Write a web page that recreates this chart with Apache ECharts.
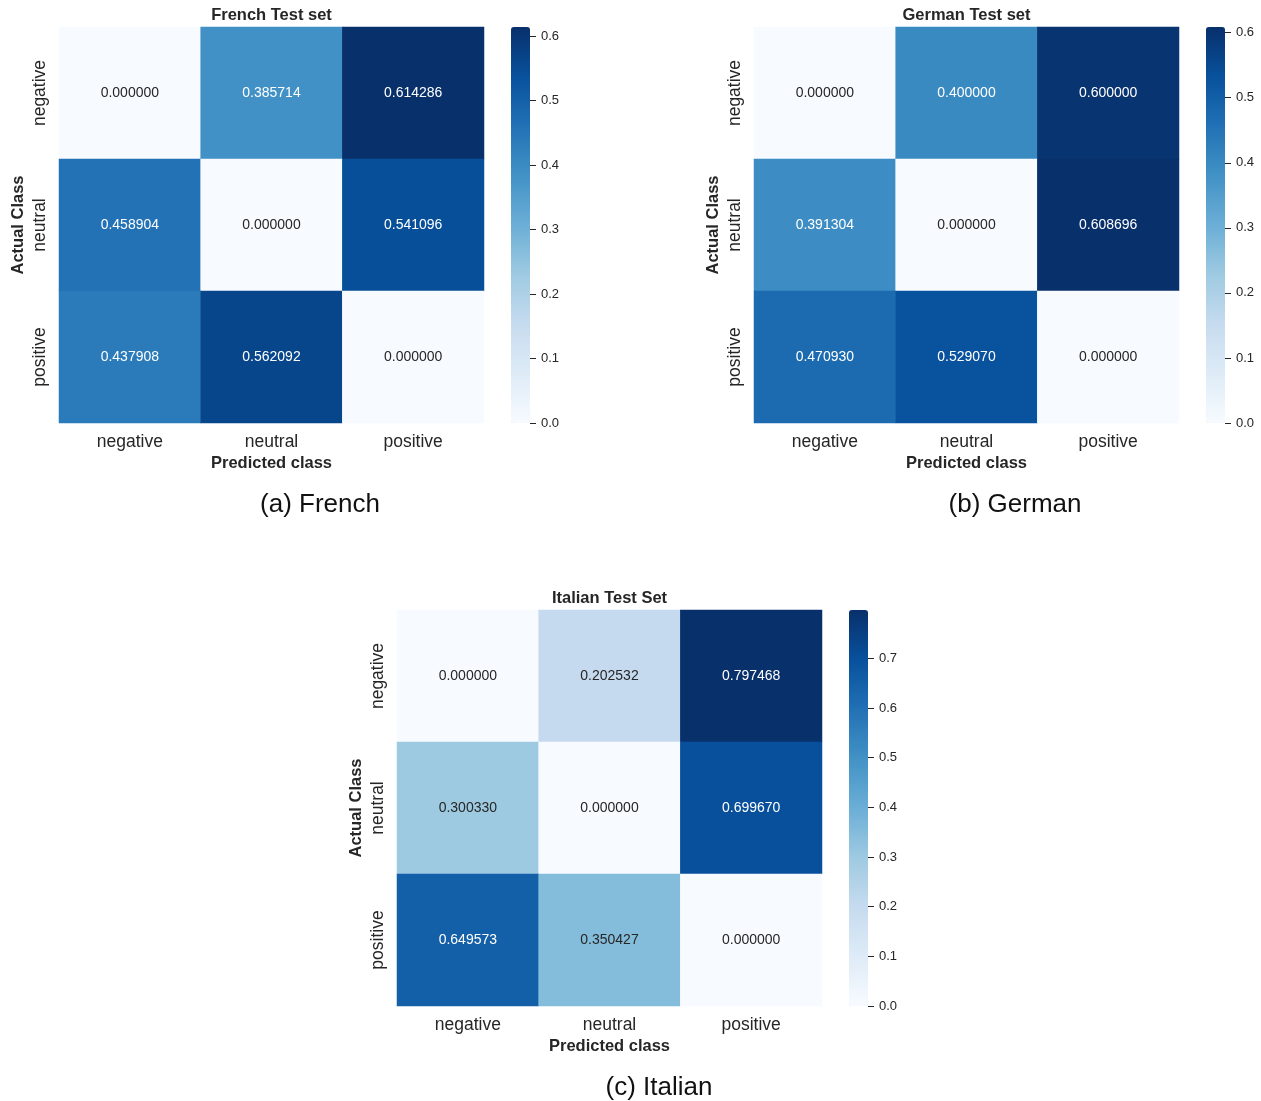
<!DOCTYPE html>
<html><head><meta charset="utf-8">
<script src="https://cdn.jsdelivr.net/npm/echarts@6/dist/echarts.min.js"></script>
<style>html,body{margin:0;padding:0;background:#fff}#c{width:1261px;height:1101px}</style>
</head><body><div id="c"></div>
<script>
const classes = ['negative', 'neutral', 'positive'];
const frenchValues = [
  [0.000000, 0.385714, 0.614286],
  [0.458904, 0.000000, 0.541096],
  [0.437908, 0.562092, 0.000000]
];
const germanValues = [
  [0.000000, 0.400000, 0.600000],
  [0.391304, 0.000000, 0.608696],
  [0.470930, 0.529070, 0.000000]
];
const italianValues = [
  [0.000000, 0.202532, 0.797468],
  [0.300330, 0.000000, 0.699670],
  [0.649573, 0.350427, 0.000000]
];
const panelTitles = ['French Test set', 'German Test set', 'Italian Test Set'];
const captions = ['(a) French', '(b) German', '(c) Italian'];
const colorbarTickStep = 0.1;

const blues = ['#f7fbff','#deebf7','#c6dbef','#9ecae1','#6baed6','#4292c6','#2171b5','#08519c','#08306b'];
const FONT = 'Liberation Sans, Arial, sans-serif';

const panels = [
  {vals: frenchValues, left: 59, top: 27, cbLeft: 511, capX: 320, capY: 492},
  {vals: germanValues, left: 754, top: 27, cbLeft: 1206, capX: 1015, capY: 492},
  {vals: italianValues, left: 397, top: 610, cbLeft: 849, capX: 659, capY: 1075}
];
const W = 425, H = 396, CBW = 19;

const option = {
  backgroundColor: '#fff',
  textStyle: {fontFamily: FONT},
  animation: false,
  title: [], grid: [], xAxis: [], yAxis: [], visualMap: [], series: []
};

panels.forEach((p, i) => {
  const maxV = Math.max(...p.vals.flat());
  option.title.push({
    text: panelTitles[i], left: p.left + W / 2, top: p.top - 20, textAlign: 'center', padding: 0,
    textStyle: {fontSize: 16.5, fontWeight: 'bold', color: '#262626', fontFamily: FONT}
  });
  option.title.push({
    text: captions[i], left: p.capX, top: p.capY, textAlign: 'center', padding: 0,
    textStyle: {fontSize: 26, fontWeight: 'normal', color: '#111', fontFamily: FONT}
  });
  const gi = option.grid.length;
  option.grid.push({left: p.left, top: p.top, width: W, height: H, containLabel: false});
  option.xAxis.push({
    type: 'category', gridIndex: gi, data: classes, position: 'bottom',
    axisLine: {show: false}, axisTick: {show: false}, splitLine: {show: false},
    axisLabel: {fontSize: 17.5, color: '#262626', margin: 10, fontFamily: FONT},
    name: 'Predicted class', nameLocation: 'middle', nameGap: 32,
    nameTextStyle: {fontSize: 16.5, fontWeight: 'bold', color: '#262626', fontFamily: FONT}
  });
  option.yAxis.push({
    type: 'category', gridIndex: gi, data: classes, inverse: true,
    axisLine: {show: false}, axisTick: {show: false}, splitLine: {show: false},
    axisLabel: {fontSize: 17.5, color: '#262626', rotate: 90, margin: 10, fontFamily: FONT},
    name: 'Actual Class', nameLocation: 'middle', nameRotate: 90, nameGap: 32,
    nameTextStyle: {fontSize: 16.5, fontWeight: 'bold', color: '#262626', fontFamily: FONT}
  });
  const data = [];
  p.vals.forEach((row, r) => row.forEach((v, c) => {
    data.push({value: [c, r, v], label: {color: v / maxV > 0.5 ? '#ffffff' : '#262626'}});
  }));
  const si = option.series.length;
  option.series.push({
    type: 'heatmap', xAxisIndex: gi, yAxisIndex: gi, data: data,
    label: {show: true, fontSize: 14, fontFamily: FONT, formatter: (d) => d.value[2].toFixed(6)},
    itemStyle: {borderWidth: 0},
    emphasis: {disabled: true}
  });
  option.visualMap.push({
    type: 'continuous', seriesIndex: si, min: 0, max: maxV, dimension: 2,
    orient: 'vertical', left: p.cbLeft, top: p.top, itemWidth: CBW, itemHeight: H,
    padding: 0, text: null, showLabel: false, calculable: false, hoverLink: false,
    inRange: {color: blues}
  });
  const ci = option.grid.length;
  option.grid.push({left: p.cbLeft + CBW, top: p.top, width: 10, height: H});
  option.xAxis.push({type: 'value', gridIndex: ci, show: false, min: 0, max: 1});
  option.yAxis.push({
    type: 'value', gridIndex: ci, position: 'left', min: 0, max: maxV, interval: colorbarTickStep,
    z: 10,
    axisLine: {show: false},
    splitLine: {show: false},
    axisTick: {show: true, inside: true, length: 6, lineStyle: {color: '#262626', width: 1}},
    axisLabel: {inside: true, fontSize: 13, color: '#262626', margin: 11, fontFamily: FONT,
      formatter: (v) => v.toFixed(1), showMaxLabel: false}
  });
});

const chart = echarts.init(document.getElementById('c'), null, {renderer: 'canvas'});
chart.setOption(option);
</script>
</body></html>
